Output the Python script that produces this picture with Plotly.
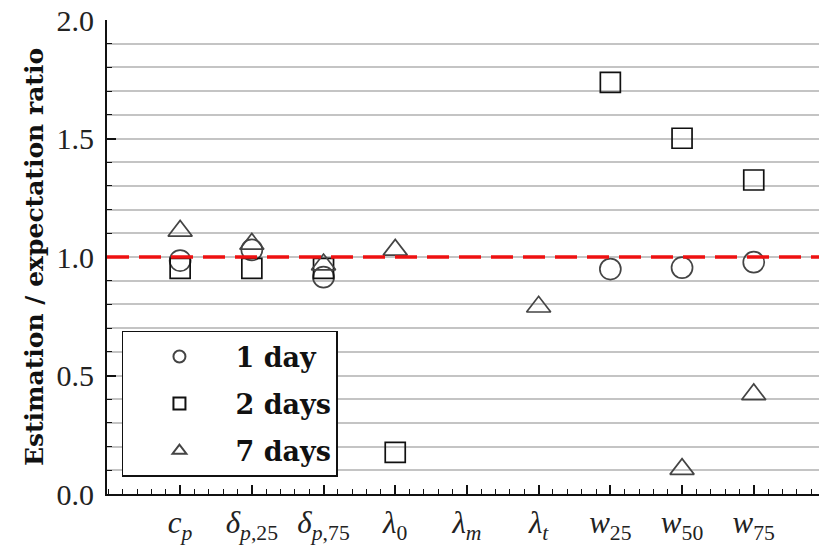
import plotly.graph_objects as go

categories = ["<i>c</i><sub><i>p</i></sub>",
              "<i>δ</i><sub><i>p</i>,25</sub>",
              "<i>δ</i><sub><i>p</i>,75</sub>",
              "<i>λ</i><sub>0</sub>",
              "<i>λ</i><sub><i>m</i></sub>",
              "<i>λ</i><sub><i>t</i></sub>",
              "<i>w</i><sub>25</sub>",
              "<i>w</i><sub>50</sub>",
              "<i>w</i><sub>75</sub>"]
one_day = [0.985, 1.03, 0.915, None, None, None, 0.949, 0.955, 0.978]
two_days = [0.952, 0.952, 0.952, 0.176, None, None, 1.737, 1.501, 1.325]
seven_days = [1.11, 1.055, 0.968, 1.03, None, 0.79, None, 0.105, 0.42]
reference_value = 1.0
x_pos = list(range(len(categories)))

serif = "Liberation Serif, DejaVu Serif, serif"
wide_serif = "DejaVu Serif, Liberation Serif, serif"
fig = go.Figure()

series = [("1 day", one_day, "circle-open", "#444444", 21),
          ("2 days", two_days, "square-open", "#111111", 20),
          ("7 days", seven_days, "triangle-up-open", "#444444", 21)]
for i, (name, vals, sym, col, sz) in enumerate(series):
    fig.add_trace(go.Scatter(x=x_pos, y=vals, mode="markers", name="<b>" + name + "</b>",
                             legendgroup="g%d" % i,
                             marker=dict(symbol=sym, size=sz, color=col,
                                         line=dict(width=1.7, color=col))))

fig.add_shape(type="line", xref="paper", x0=0, x1=1, yref="y",
              y0=reference_value, y1=reference_value,
              line=dict(color="#ee1111", width=3.5, dash="22px,10px"), layer="above")

fig.update_layout(
    width=819, height=545,
    margin=dict(l=107, r=0, t=20, b=48),
    plot_bgcolor="white", paper_bgcolor="white",
    font=dict(family=serif, color="#222222"),
    showlegend=True,
    legend=dict(x=0.021, y=0.036, xanchor="left", yanchor="bottom",
                bordercolor="#111111", borderwidth=1.5, bgcolor="white",
                font=dict(size=27, family=wide_serif, color="#111111"),
                traceorder="grouped", tracegroupgap=9,
                itemsizing="constant", itemwidth=102),
    xaxis=dict(range=[-1.02, 8.91], tickmode="array", tickvals=x_pos,
               ticktext=categories, showgrid=False, zeroline=False,
               showline=True, linecolor="#111111", linewidth=2,
               ticks="inside", ticklen=9, tickwidth=1.5, tickcolor="#111111",
               tickfont=dict(size=31, family=serif, color="#222222"),
               minor=dict(ticks="inside", ticklen=5, tickwidth=1.2,
                          tickcolor="#111111", dtick=0.2, tick0=0, showgrid=False)),
    yaxis=dict(range=[0, 2.0], tickmode="linear", tick0=0, dtick=0.5,
               tickformat=".1f", showgrid=True, gridcolor="#c4c4c4", gridwidth=1.5,
               zeroline=False, showline=True, linecolor="#111111", linewidth=2,
               ticks="inside", ticklen=9, tickwidth=1.5, tickcolor="#111111",
               ticklabelstandoff=5,
               tickfont=dict(size=30, family=serif, color="#222222"),
               title=dict(text="<b>Estimation / expectation ratio</b>",
                          font=dict(size=25, family=wide_serif, color="#111111"),
                          standoff=6),
               minor=dict(ticks="inside", ticklen=5, tickwidth=1.2,
                          tickcolor="#111111", dtick=0.1, tick0=0,
                          showgrid=True, gridcolor="#c4c4c4", gridwidth=1.5)),
)
fig.write_html("out.html")
